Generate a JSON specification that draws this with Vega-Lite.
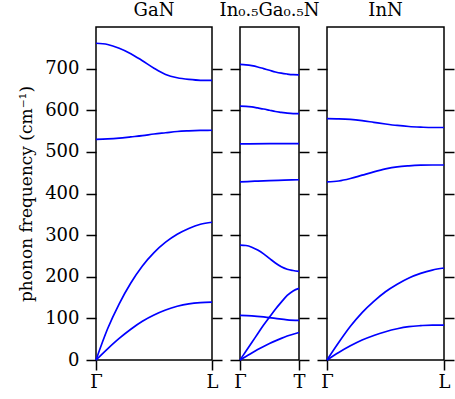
{
  "$schema": "https://vega.github.io/schema/vega-lite/v6.json",
  "padding": {"left": 16, "top": 1, "right": 0, "bottom": 0},
  "spacing": 28,
  "bounds": "flush",
  "config": {
    "font": "DejaVu Serif",
    "view": {"stroke": "black", "strokeWidth": 1.5},
    "axis": {"domain": false, "grid": false, "ticks": true, "tickSize": 10, "tickWidth": 1.5, "tickColor": "black", "labelFont": "DejaVu Serif", "labelFontSize": 18, "labelColor": "black", "labelPadding": 7, "titleFont": "DejaVu Serif", "titleFontSize": 17, "titleFontWeight": "normal", "titleColor": "black", "labelFlush": false, "labelOverlap": false},
    "title": {"font": "DejaVu Serif", "fontSize": 18, "fontWeight": "normal", "color": "black", "offset": 7}
  },
  "hconcat": [
    {
      "width": 116, "height": 333,
      "title": "GaN",
      "data": {"values": [
        {"band": 1, "k": 0, "f": 761}, {"band": 1, "k": 0.1, "f": 758}, {"band": 1, "k": 0.2, "f": 749}, {"band": 1, "k": 0.3, "f": 736}, {"band": 1, "k": 0.4, "f": 719}, {"band": 1, "k": 0.5, "f": 701}, {"band": 1, "k": 0.6, "f": 686}, {"band": 1, "k": 0.7, "f": 678}, {"band": 1, "k": 0.8, "f": 674}, {"band": 1, "k": 0.9, "f": 672}, {"band": 1, "k": 1, "f": 672},
        {"band": 2, "k": 0, "f": 530}, {"band": 2, "k": 0.1, "f": 531}, {"band": 2, "k": 0.2, "f": 533}, {"band": 2, "k": 0.3, "f": 536}, {"band": 2, "k": 0.4, "f": 539}, {"band": 2, "k": 0.5, "f": 543}, {"band": 2, "k": 0.6, "f": 546}, {"band": 2, "k": 0.7, "f": 549}, {"band": 2, "k": 0.8, "f": 550.5}, {"band": 2, "k": 0.9, "f": 551.5}, {"band": 2, "k": 1, "f": 552},
        {"band": 3, "k": 0, "f": 0}, {"band": 3, "k": 0.1, "f": 75}, {"band": 3, "k": 0.2, "f": 135}, {"band": 3, "k": 0.3, "f": 185}, {"band": 3, "k": 0.4, "f": 226}, {"band": 3, "k": 0.5, "f": 258}, {"band": 3, "k": 0.6, "f": 283}, {"band": 3, "k": 0.7, "f": 302}, {"band": 3, "k": 0.8, "f": 316}, {"band": 3, "k": 0.9, "f": 326}, {"band": 3, "k": 1, "f": 331},
        {"band": 4, "k": 0, "f": 0}, {"band": 4, "k": 0.1, "f": 27}, {"band": 4, "k": 0.2, "f": 52}, {"band": 4, "k": 0.3, "f": 74}, {"band": 4, "k": 0.4, "f": 93}, {"band": 4, "k": 0.5, "f": 108}, {"band": 4, "k": 0.6, "f": 120}, {"band": 4, "k": 0.7, "f": 129}, {"band": 4, "k": 0.8, "f": 135}, {"band": 4, "k": 0.9, "f": 138}, {"band": 4, "k": 1, "f": 139}
      ]},
      "layer": [
        {"mark": {"type": "line", "color": "#0000ff", "strokeWidth": 1.7, "interpolate": "monotone"},
         "encoding": {
           "x": {"field": "k", "type": "quantitative", "scale": {"domain": [0, 1], "nice": false}, "axis": {"values": [0, 1], "labelExpr": "datum.value == 0 ? 'Γ' : 'L'", "title": null, "labelPadding": 3}},
           "y": {"field": "f", "type": "quantitative", "scale": {"domain": [0, 800], "nice": false}, "axis": {"values": [0, 100, 200, 300, 400, 500, 600, 700], "title": "phonon frequency (cm⁻¹)", "titlePadding": 9}},
           "detail": {"field": "band"}
         }},
        {"mark": {"type": "line", "opacity": 0},
         "encoding": {
           "x": {"field": "k", "type": "quantitative", "scale": {"domain": [0, 1], "nice": false}, "axis": {"values": [0, 1], "labelExpr": "datum.value == 0 ? 'Γ' : 'L'", "title": null, "labelPadding": 3}},
           "y": {"field": "f", "type": "quantitative", "scale": {"domain": [0, 800], "nice": false}, "axis": {"orient": "right", "values": [0, 100, 200, 300, 400, 500, 600, 700], "labels": false, "title": null}},
           "detail": {"field": "band"}
         }}
      ],
      "resolve": {"axis": {"y": "independent"}}
    },
    {
      "width": 59, "height": 333,
      "title": "In₀.₅Ga₀.₅N",
      "data": {"values": [
        {"band": 1, "k": 0, "f": 710}, {"band": 1, "k": 0.1, "f": 709}, {"band": 1, "k": 0.2, "f": 707}, {"band": 1, "k": 0.3, "f": 704}, {"band": 1, "k": 0.4, "f": 700}, {"band": 1, "k": 0.5, "f": 696}, {"band": 1, "k": 0.6, "f": 692}, {"band": 1, "k": 0.7, "f": 689}, {"band": 1, "k": 0.8, "f": 687}, {"band": 1, "k": 0.9, "f": 685.5}, {"band": 1, "k": 1, "f": 685},
        {"band": 2, "k": 0, "f": 610}, {"band": 2, "k": 0.1, "f": 609.5}, {"band": 2, "k": 0.2, "f": 608}, {"band": 2, "k": 0.3, "f": 605.5}, {"band": 2, "k": 0.4, "f": 603}, {"band": 2, "k": 0.5, "f": 600}, {"band": 2, "k": 0.6, "f": 597}, {"band": 2, "k": 0.7, "f": 595}, {"band": 2, "k": 0.8, "f": 593}, {"band": 2, "k": 0.9, "f": 592}, {"band": 2, "k": 1, "f": 592},
        {"band": 3, "k": 0, "f": 519}, {"band": 3, "k": 0.5, "f": 520}, {"band": 3, "k": 1, "f": 520},
        {"band": 4, "k": 0, "f": 428}, {"band": 4, "k": 0.25, "f": 429.5}, {"band": 4, "k": 0.5, "f": 431}, {"band": 4, "k": 0.75, "f": 432}, {"band": 4, "k": 1, "f": 433},
        {"band": 5, "k": 0, "f": 276}, {"band": 5, "k": 0.1, "f": 275}, {"band": 5, "k": 0.2, "f": 271}, {"band": 5, "k": 0.3, "f": 264}, {"band": 5, "k": 0.4, "f": 255}, {"band": 5, "k": 0.5, "f": 244}, {"band": 5, "k": 0.6, "f": 233}, {"band": 5, "k": 0.7, "f": 224}, {"band": 5, "k": 0.8, "f": 218}, {"band": 5, "k": 0.9, "f": 215}, {"band": 5, "k": 1, "f": 213},
        {"band": 6, "k": 0, "f": 0}, {"band": 6, "k": 0.1, "f": 21}, {"band": 6, "k": 0.2, "f": 42}, {"band": 6, "k": 0.3, "f": 63}, {"band": 6, "k": 0.4, "f": 84}, {"band": 6, "k": 0.5, "f": 103}, {"band": 6, "k": 0.6, "f": 122}, {"band": 6, "k": 0.7, "f": 139}, {"band": 6, "k": 0.8, "f": 155}, {"band": 6, "k": 0.9, "f": 166}, {"band": 6, "k": 1, "f": 172},
        {"band": 7, "k": 0, "f": 107}, {"band": 7, "k": 0.2, "f": 106}, {"band": 7, "k": 0.4, "f": 103.5}, {"band": 7, "k": 0.6, "f": 100}, {"band": 7, "k": 0.8, "f": 96.5}, {"band": 7, "k": 1, "f": 95},
        {"band": 8, "k": 0, "f": 0}, {"band": 8, "k": 0.1, "f": 8.5}, {"band": 8, "k": 0.2, "f": 17}, {"band": 8, "k": 0.3, "f": 25}, {"band": 8, "k": 0.4, "f": 32.5}, {"band": 8, "k": 0.5, "f": 39.5}, {"band": 8, "k": 0.6, "f": 46}, {"band": 8, "k": 0.7, "f": 52}, {"band": 8, "k": 0.8, "f": 57.5}, {"band": 8, "k": 0.9, "f": 62}, {"band": 8, "k": 1, "f": 66}
      ]},
      "layer": [
        {"mark": {"type": "line", "color": "#0000ff", "strokeWidth": 1.7, "interpolate": "monotone"},
         "encoding": {
           "x": {"field": "k", "type": "quantitative", "scale": {"domain": [0, 1], "nice": false}, "axis": {"values": [0, 1], "labelExpr": "datum.value == 0 ? 'Γ' : 'T'", "title": null, "labelPadding": 3}},
           "y": {"field": "f", "type": "quantitative", "scale": {"domain": [0, 800], "nice": false}, "axis": {"values": [0, 100, 200, 300, 400, 500, 600, 700], "labels": false, "title": null}},
           "detail": {"field": "band"}
         }},
        {"mark": {"type": "line", "opacity": 0},
         "encoding": {
           "x": {"field": "k", "type": "quantitative", "scale": {"domain": [0, 1], "nice": false}, "axis": {"values": [0, 1], "labelExpr": "datum.value == 0 ? 'Γ' : 'T'", "title": null, "labelPadding": 3}},
           "y": {"field": "f", "type": "quantitative", "scale": {"domain": [0, 800], "nice": false}, "axis": {"orient": "right", "values": [0, 100, 200, 300, 400, 500, 600, 700], "labels": false, "title": null}},
           "detail": {"field": "band"}
         }}
      ],
      "resolve": {"axis": {"y": "independent"}}
    },
    {
      "width": 117, "height": 333,
      "title": "InN",
      "data": {"values": [
        {"band": 1, "k": 0, "f": 580}, {"band": 1, "k": 0.1, "f": 579.5}, {"band": 1, "k": 0.2, "f": 578}, {"band": 1, "k": 0.3, "f": 575}, {"band": 1, "k": 0.4, "f": 571}, {"band": 1, "k": 0.5, "f": 567}, {"band": 1, "k": 0.6, "f": 563.5}, {"band": 1, "k": 0.7, "f": 561}, {"band": 1, "k": 0.8, "f": 559.5}, {"band": 1, "k": 0.9, "f": 558.5}, {"band": 1, "k": 1, "f": 558.5},
        {"band": 2, "k": 0, "f": 428}, {"band": 2, "k": 0.1, "f": 430}, {"band": 2, "k": 0.2, "f": 436}, {"band": 2, "k": 0.3, "f": 444}, {"band": 2, "k": 0.4, "f": 452}, {"band": 2, "k": 0.5, "f": 459}, {"band": 2, "k": 0.6, "f": 464}, {"band": 2, "k": 0.7, "f": 466.5}, {"band": 2, "k": 0.8, "f": 468}, {"band": 2, "k": 0.9, "f": 468.5}, {"band": 2, "k": 1, "f": 468.5},
        {"band": 3, "k": 0, "f": 0}, {"band": 3, "k": 0.1, "f": 42}, {"band": 3, "k": 0.2, "f": 81}, {"band": 3, "k": 0.3, "f": 114}, {"band": 3, "k": 0.4, "f": 141}, {"band": 3, "k": 0.5, "f": 164}, {"band": 3, "k": 0.6, "f": 182}, {"band": 3, "k": 0.7, "f": 197}, {"band": 3, "k": 0.8, "f": 208}, {"band": 3, "k": 0.9, "f": 216}, {"band": 3, "k": 1, "f": 221},
        {"band": 4, "k": 0, "f": 0}, {"band": 4, "k": 0.1, "f": 18}, {"band": 4, "k": 0.2, "f": 34}, {"band": 4, "k": 0.3, "f": 48}, {"band": 4, "k": 0.4, "f": 59}, {"band": 4, "k": 0.5, "f": 68}, {"band": 4, "k": 0.6, "f": 75}, {"band": 4, "k": 0.7, "f": 80}, {"band": 4, "k": 0.8, "f": 82.5}, {"band": 4, "k": 0.9, "f": 84}, {"band": 4, "k": 1, "f": 84}
      ]},
      "layer": [
        {"mark": {"type": "line", "color": "#0000ff", "strokeWidth": 1.7, "interpolate": "monotone"},
         "encoding": {
           "x": {"field": "k", "type": "quantitative", "scale": {"domain": [0, 1], "nice": false}, "axis": {"values": [0, 1], "labelExpr": "datum.value == 0 ? 'Γ' : 'L'", "title": null, "labelPadding": 3}},
           "y": {"field": "f", "type": "quantitative", "scale": {"domain": [0, 800], "nice": false}, "axis": {"values": [0, 100, 200, 300, 400, 500, 600, 700], "labels": false, "title": null}},
           "detail": {"field": "band"}
         }},
        {"mark": {"type": "line", "opacity": 0},
         "encoding": {
           "x": {"field": "k", "type": "quantitative", "scale": {"domain": [0, 1], "nice": false}, "axis": {"values": [0, 1], "labelExpr": "datum.value == 0 ? 'Γ' : 'L'", "title": null, "labelPadding": 3}},
           "y": {"field": "f", "type": "quantitative", "scale": {"domain": [0, 800], "nice": false}, "axis": {"orient": "right", "values": [0, 100, 200, 300, 400, 500, 600, 700], "labels": false, "title": null}},
           "detail": {"field": "band"}
         }}
      ],
      "resolve": {"axis": {"y": "independent"}}
    }
  ]
}
